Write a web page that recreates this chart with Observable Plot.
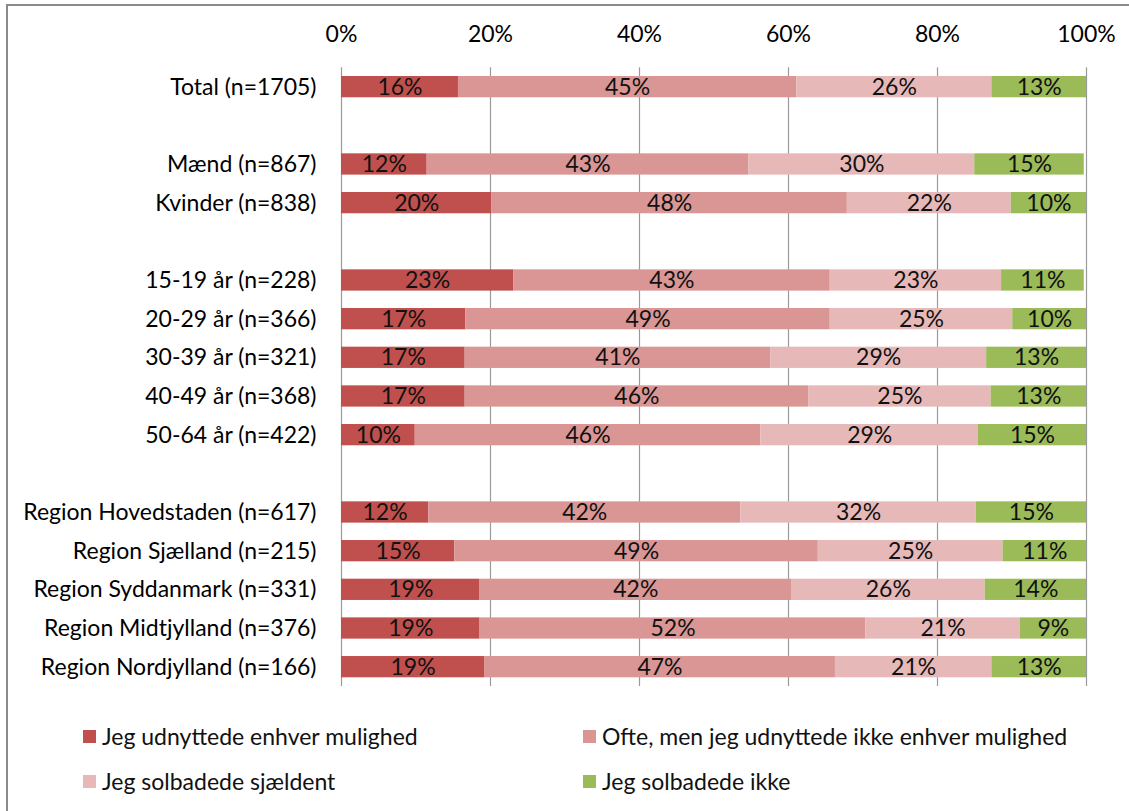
<!DOCTYPE html>
<html>
<head>
<meta charset="utf-8">
<script src="https://cdn.jsdelivr.net/npm/d3@7"></script>
<script src="https://cdn.jsdelivr.net/npm/@observablehq/plot@0.6"></script>
<style>
  html, body { margin: 0; padding: 0; background: #fff; overflow: hidden; }
  body { width: 1129px; height: 811px; position: relative; font-family: Lato, "Open Sans", sans-serif; }
  #frame { position: absolute; left: 6px; top: 4px; width: 1200px; height: 900px;
           border-top: 2px solid #8a8a8a; border-left: 2px solid #8a8a8a; box-sizing: border-box; }
  #chart { position: absolute; left: 0; top: 0; }
  .leg { position: absolute; display: flex; align-items: center; font-size: 23px; color: #111; white-space: nowrap; }
  .sw { width: 13px; height: 13px; margin-right: 6px; flex: none; }
</style>
</head>
<body>
<div id="frame"></div>
<div id="chart"></div>
<script>
// Categories (null = empty spacer row)
const categories = [
  "Total (n=1705)", null,
  "Mænd (n=867)", "Kvinder (n=838)", null,
  "15-19 år (n=228)", "20-29 år (n=366)", "30-39 år (n=321)", "40-49 år (n=368)", "50-64 år (n=422)", null,
  "Region Hovedstaden (n=617)", "Region Sjælland (n=215)", "Region Syddanmark (n=331)",
  "Region Midtjylland (n=376)", "Region Nordjylland (n=166)"
];
const seriesNames = [
  "Jeg udnyttede enhver mulighed",
  "Ofte, men jeg udnyttede ikke enhver mulighed",
  "Jeg solbadede sjældent",
  "Jeg solbadede ikke"
];
const seriesColors = ["#C0504D", "#D99694", "#E6B9B8", "#9BBB59"];
// values (%) for the non-empty categories, in order
const udnyttede = [15.7, 11.5, 20.2, 23.1, 16.7, 16.6, 16.6, 9.9, 11.7, 15.2, 18.6, 18.6, 19.2];
const ofte      = [45.4, 43.2, 47.7, 42.5, 48.9, 41.0, 46.1, 46.4, 41.9, 48.8, 41.8, 51.8, 47.1];
const sjaeldent = [26.2, 30.3, 22.0, 23.0, 24.5, 29.0, 24.5, 29.2, 31.6, 24.8, 26.0, 20.7, 21.0];
const ikke      = [12.7, 14.7, 10.1, 11.1,  9.9, 13.4, 12.8, 14.5, 14.8, 11.2, 13.6,  8.9, 12.7];
const xTicks = [0, 20, 40, 60, 80, 100];

const domain = categories.map((c, i) => c ?? `__gap${i}`);
const realCats = categories.filter(c => c !== null);
const seriesValues = [udnyttede, ofte, sjaeldent, ikke];
const data = [];
realCats.forEach((cat, i) => {
  seriesNames.forEach((s, j) => data.push({cat, series: s, value: seriesValues[j][i]}));
});

const W = 1129, H = 700;
const FS = 23;
const plot = Plot.plot({
  width: W,
  height: H,
  marginLeft: 341,
  marginRight: 43,
  marginTop: 67.3,
  marginBottom: H - 686,
  style: {fontFamily: "Lato, 'Open Sans', sans-serif", fontSize: FS + "px", color: "#000", background: "transparent"},
  x: {domain: [0, 100]},
  y: {domain, paddingInner: 0.45, paddingOuter: 0.225, round: false},
  color: {domain: seriesNames, range: seriesColors},
  marks: [
    Plot.ruleX(xTicks, {stroke: "#9a9a9a", strokeWidth: 1.2}),
    Plot.barX(data, Plot.stackX({x: "value", y: "cat", fill: "series", order: null})),
    Plot.text(data, Plot.stackX({x: "value", y: "cat", text: d => Math.round(d.value) + "%", order: null,
      fill: "#111", fontSize: FS})),
    Plot.axisX(xTicks, {anchor: "top", tickSize: 0, tickPadding: 26, tickFormat: d => d + "%", label: null, fontSize: FS}),
    Plot.axisY({tickSize: 0, tickPadding: 25, tickFormat: d => d.startsWith("__gap") ? "" : d, label: null, fontSize: FS})
  ]
});
document.getElementById("chart").appendChild(plot);

// Legend
const legPos = [[83, 736], [583, 736], [83, 781], [583, 781]];
seriesNames.forEach((s, i) => {
  const el = document.createElement("div");
  el.className = "leg";
  el.style.left = legPos[i][0] + "px";
  el.style.top = (legPos[i][1] - 15) + "px";
  el.style.height = "30px";
  el.innerHTML = `<span class="sw" style="background:${seriesColors[i]}"></span><span>${s}</span>`;
  document.body.appendChild(el);
});
</script>
</body>
</html>
